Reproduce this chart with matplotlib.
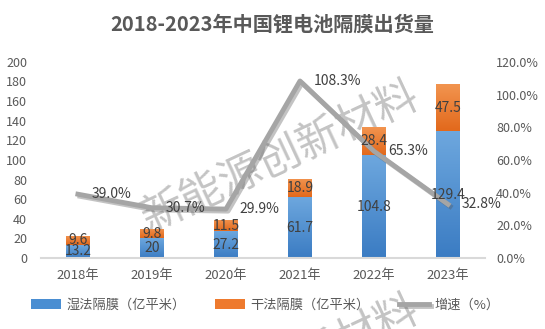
import matplotlib.pyplot as plt
import matplotlib.patheffects as pe
from matplotlib.colors import LinearSegmentedColormap
import numpy as np

plt.rcParams['font.family'] = ['Noto Sans CJK SC', 'DejaVu Sans']

# Data
years = ["2018年", "2019年", "2020年", "2021年", "2022年", "2023年"]
wet = [13.2, 20, 27.2, 61.7, 104.8, 129.4]
dry = [9.6, 9.8, 11.5, 18.9, 28.4, 47.5]
growth = [39.0, 30.7, 29.9, 108.3, 65.3, 32.8]

fig = plt.figure(figsize=(5.45, 3.29), dpi=100)
ax = fig.add_axes([0.075, 0.216, 0.815, 0.596])
ax2 = ax.twinx()
ax.patch.set_visible(False)

x = np.arange(len(years))
bar_width = 0.32
text_color = "#404040"

bars_wet = ax.bar(x, wet, width=bar_width, color="#4A8ED2", label="湿法隔膜（亿平米）", zorder=2)
bars_dry = ax.bar(x, dry, bottom=wet, width=bar_width, color="#EE7A2E", label="干法隔膜（亿平米）", zorder=2)

# gradient fill, light at top, dark at bottom
grad = np.linspace(0, 1, 100).reshape(-1, 1)
cmap_blue = LinearSegmentedColormap.from_list("b", ["#3B7CC3", "#6DA7DE"])
cmap_orange = LinearSegmentedColormap.from_list("o", ["#E2691C", "#F2944F"])
for bars, cm in ((bars_wet, cmap_blue), (bars_dry, cmap_orange)):
    for b in bars:
        x0, y0 = b.get_x(), b.get_y()
        im = ax.imshow(grad, extent=[x0, x0 + b.get_width(), y0, y0 + b.get_height()],
                       origin="lower", aspect="auto", cmap=cm, zorder=2.1)
        im.set_clip_path(b)

ax2.plot(x, growth, color="#A5A5A5", linewidth=3.5, label="增速（%）", zorder=3,
         path_effects=[pe.SimpleLineShadow(offset=(1.5, -1.5), shadow_color="#555555", alpha=0.35),
                       pe.Normal()])
for i in range(len(years)):
    ax2.annotate(f"{growth[i]:.1f}%", (x[i], growth[i]), xytext=(10, 0),
                 textcoords="offset points", ha="left", va="center",
                 fontsize=10, color=text_color, zorder=6)
    ax2.text(x[i], wet[i] / 2, f"{wet[i]:g}", ha="center", va="center",
             fontsize=10, color=text_color, zorder=5, transform=ax.transData)
    ax2.text(x[i], wet[i] + dry[i] / 2, f"{dry[i]:g}", ha="center", va="center",
             fontsize=10, color=text_color, zorder=5, transform=ax.transData)

ax.set_xlim(-0.5, len(years) - 0.5)
ax.set_ylim(0, 200)
ax.set_yticks(np.arange(0, 201, 20))
ax2.set_ylim(0, 120)
ax2.set_yticks(np.arange(0, 121, 20))
ax2.set_yticklabels([f"{v:.1f}%" for v in np.arange(0, 121, 20)])
ax.set_xticks(x)
ax.set_xticklabels(years)

for a in (ax, ax2):
    for s in ("top", "left", "right", "bottom"):
        a.spines[s].set_visible(False)
    a.tick_params(length=0, labelsize=9, colors="#595959")
ax.spines["bottom"].set_visible(True)
ax.spines["bottom"].set_color("#D9D9D9")
ax.spines["bottom"].set_linewidth(1.5)
ax.tick_params(axis="x", pad=8, labelsize=9.5)
ax.tick_params(axis="y", pad=10)
ax2.tick_params(axis="y", pad=8)

fig.text(0.5, 1 - 24 / 329, "2018-2023年中国锂电池隔膜出货量", ha="center", va="center",
         fontsize=14.5, fontweight="bold", color="#595959")

# watermark, drawn behind the axes
for cy in (158, 372):
    fig.text(280 / 545, 1 - cy / 329, "新能源创新材料", ha="center", va="center",
             rotation=25, fontsize=31, color="#C4C4C4", zorder=-1)

h1, l1 = ax.get_legend_handles_labels()
h2, l2 = ax2.get_legend_handles_labels()
fig.legend(h1 + h2, l1 + l2, loc="center", bbox_to_anchor=(0.487, 1 - 305 / 329),
           ncol=3, frameon=False, fontsize=9.5, labelcolor="#595959",
           handlelength=2.3, handleheight=0.7, columnspacing=2.2, handletextpad=0.4)

plt.savefig("out.png", dpi=100)
